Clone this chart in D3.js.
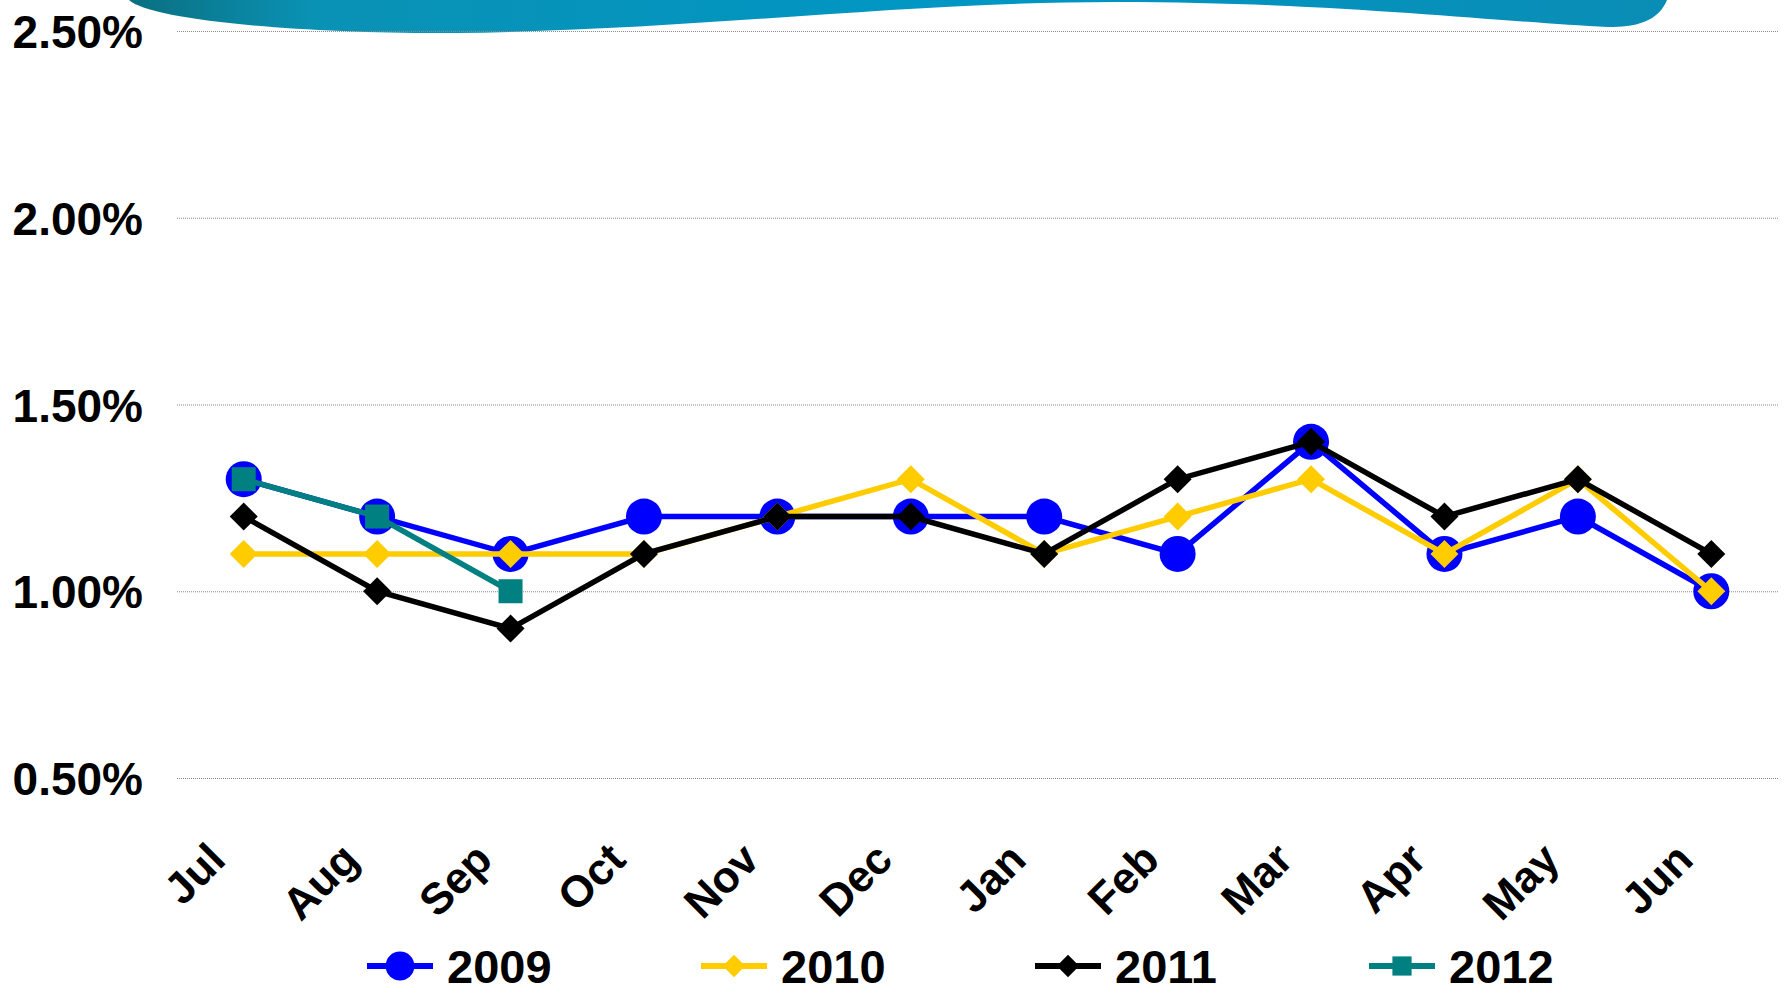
<!DOCTYPE html>
<html>
<head>
<meta charset="utf-8">
<script src="https://cdn.jsdelivr.net/npm/d3@7"></script>
<style>
  html, body { margin: 0; padding: 0; background: #fff; }
  svg { display: block; font-family: "Liberation Sans", Arial, sans-serif; font-weight: bold; }
</style>
</head>
<body>
<svg id="chart" width="1787" height="995"></svg>
<script>
const months = ['Jul', 'Aug', 'Sep', 'Oct', 'Nov', 'Dec', 'Jan', 'Feb', 'Mar', 'Apr', 'May', 'Jun'];
const yTicks = [0.5, 1.0, 1.5, 2.0, 2.5];

const values2009 = [1.3, 1.2, 1.1, 1.2, 1.2, 1.2, 1.2, 1.1, 1.4, 1.1, 1.2, 1.0];
const values2010 = [1.1, 1.1, 1.1, 1.1, 1.2, 1.3, 1.1, 1.2, 1.3, 1.1, 1.3, 1.0];
const values2011 = [1.2, 1.0, 0.9, 1.1, 1.2, 1.2, 1.1, 1.3, 1.4, 1.2, 1.3, 1.1];
const values2012 = [1.3, 1.2, 1.0];

const series = [
  { name: '2009', values: values2009, color: '#0000ff', marker: 'circle' },
  { name: '2010', values: values2010, color: '#ffcc00', marker: 'diamond' },
  { name: '2011', values: values2011, color: '#000000', marker: 'diamond' },
  { name: '2012', values: values2012, color: '#008080', marker: 'square' }
];

const svg = d3.select('#chart');
const plotLeft = 177, plotRight = 1778, plotTop = 31, plotBottom = 778;

// decorative swoosh at the top
const defs = svg.append('defs');
const grad = defs.append('linearGradient').attr('id', 'swoosh').attr('x1', '0%').attr('x2', '100%');
grad.append('stop').attr('offset', '0%').attr('stop-color', '#0a6f80');
grad.append('stop').attr('offset', '12%').attr('stop-color', '#0a92b5');
grad.append('stop').attr('offset', '55%').attr('stop-color', '#0096c4');
grad.append('stop').attr('offset', '100%').attr('stop-color', '#0a8db5');
svg.append('path')
  .attr('d', 'M129,0 C150,20 300,34 456,33 C700,30 900,2 1117,2 C1330,2 1500,22 1608,27 C1650,28 1662,12 1667,0 Z')
  .attr('fill', 'url(#swoosh)');

const x = d3.scaleBand().domain(months).range([plotLeft, plotRight]);
const cx = (m) => x(m) + x.bandwidth() / 2;
const y = d3.scaleLinear().domain([0.5, 2.5]).range([plotBottom, plotTop]);

// y axis with gridlines
const yAxis = svg.append('g')
  .attr('transform', `translate(${plotLeft},0)`)
  .call(d3.axisLeft(y).tickValues(yTicks).tickSize(-(plotRight - plotLeft)).tickPadding(34)
    .tickFormat((d) => d.toFixed(2) + '%'));
yAxis.select('.domain').remove();
yAxis.selectAll('line').attr('stroke', '#8a8a8a').attr('stroke-width', 1).attr('stroke-dasharray', '1,1');
yAxis.selectAll('text')
  .attr('fill', '#000').attr('font-size', 46).attr('font-weight', 'bold')
  .attr('font-family', '"Liberation Sans", Arial, sans-serif').attr('dy', '0.36em');

// x axis labels
const xAxis = svg.append('g')
  .attr('transform', `translate(0,${plotBottom})`)
  .call(d3.axisBottom(x).tickSize(0));
xAxis.select('.domain').remove();
xAxis.selectAll('text')
  .attr('fill', '#000').attr('font-size', 44).attr('font-weight', 'bold')
  .attr('font-family', '"Liberation Sans", Arial, sans-serif')
  .attr('x', 0).attr('y', 0).attr('dy', 0)
  .attr('text-anchor', 'end')
  .attr('transform', 'translate(-16,84) rotate(-45)');

function markerPath(type, s) {
  if (type === 'diamond') return `M0,${-s}L${s},0L0,${s}L${-s},0Z`;
  return `M${-s},${-s}H${s}V${s}H${-s}Z`;
}

function drawMarker(g, type, color, px, py, scale) {
  if (type === 'circle') {
    g.append('circle').attr('cx', px).attr('cy', py).attr('r', 18 * scale).attr('fill', color);
  } else {
    const s = type === 'diamond' ? 14 * scale : 12 * scale;
    g.append('path').attr('d', markerPath(type, s))
      .attr('transform', `translate(${px},${py})`).attr('fill', color);
  }
}

const line = d3.line().x((d) => cx(d.m)).y((d) => y(d.v));

series.forEach((s) => {
  const pts = s.values.map((v, i) => ({ m: months[i], v }));
  const g = svg.append('g');
  g.append('path').datum(pts).attr('d', line)
    .attr('fill', 'none').attr('stroke', s.color).attr('stroke-width', 5.5)
    .attr('stroke-linejoin', 'miter');
  pts.forEach((p) => drawMarker(g, s.marker, s.color, cx(p.m), y(p.v), 1));
});

// legend
const legend = svg.append('g').attr('transform', 'translate(367,966)');
series.forEach((s, i) => {
  const g = legend.append('g').attr('transform', `translate(${i * 334},0)`);
  g.append('line').attr('x1', 0).attr('x2', 66).attr('y1', 0).attr('y2', 0)
    .attr('stroke', s.color).attr('stroke-width', 6);
  drawMarker(g, s.marker, s.color, 33, 0, 0.8);
  g.append('text').attr('x', 80).attr('y', 0).attr('dy', '0.36em')
    .attr('font-size', 47).attr('fill', '#000').text(s.name);
});
</script>
</body>
</html>
